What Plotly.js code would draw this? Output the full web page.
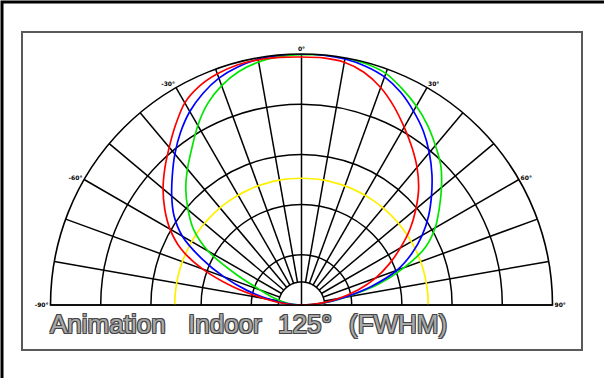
<!DOCTYPE html>
<html>
<head>
<meta charset="utf-8">
<script src="https://cdn.plot.ly/plotly-3.0.1.min.js"></script>
<style>html,body{margin:0;padding:0;background:#fff;}#chart{width:604px;height:378px;}</style>
</head>
<body>
<div id="chart"></div>
<script>
// Angles (degrees, 0 = straight up, negative = left)
const angles = [-90,-85,-80,-75,-70,-65,-60,-55,-50,-45,-40,-35,-30,-25,-20,-15,-10,-5,0,5,10,15,20,25,30,35,40,45,50,55,60,65,70,75,80,85,90];

// Relative intensity for each curve
const redSeries = [0,0.07,0.155,0.285,0.42,0.53,0.605,0.665,0.72,0.77,0.82,0.875,0.93,0.962,0.98,0.99,0.992,0.99,0.988,0.988,0.982,0.96,0.922,0.872,0.818,0.767,0.716,0.66,0.595,0.528,0.455,0.385,0.315,0.235,0.15,0.073,0];
const blueSeries = [0,0.06,0.13,0.225,0.33,0.44,0.548,0.62,0.675,0.728,0.785,0.84,0.89,0.93,0.962,0.982,0.994,0.999,1.0,0.999,0.995,0.985,0.967,0.935,0.892,0.846,0.792,0.735,0.676,0.618,0.555,0.485,0.405,0.29,0.17,0.08,0];
const greenSeries = [0,0.035,0.075,0.12,0.175,0.285,0.43,0.525,0.59,0.652,0.707,0.762,0.826,0.885,0.93,0.963,0.983,0.993,0.997,1.0,1.0,0.995,0.982,0.95,0.915,0.875,0.83,0.785,0.728,0.67,0.615,0.545,0.435,0.315,0.175,0.085,0];
const yellowSeries = [0.505,0.505,0.505,0.505,0.505,0.505,0.505,0.505,0.505,0.505,0.505,0.505,0.505,0.505,0.505,0.505,0.505,0.505,0.505,0.505,0.505,0.505,0.505,0.505,0.505,0.505,0.505,0.505,0.505,0.505,0.505,0.505,0.505,0.505,0.505,0.505,0.505];

// Angular ticks and labels
const tickVals = [-90,-80,-70,-60,-50,-40,-30,-20,-10,0,10,20,30,40,50,60,70,80,90];
const tickText = ["-90°","","","-60°","","","-30°","","","0°","","","30°","","","60°","","","90°"];
const ringVals = [0.2,0.4,0.6,0.8];

const W = 604, H = 378;
const px = x => x / W;
const py = y => 1 - y / H;

// inner hub of the grid (decoration)
const HUB = 0.092;
const hubTheta = [], hubR = [];
for (let a = -90; a <= 90; a += 3) { hubTheta.push(a); hubR.push(HUB); }

const lineStyle = c => ({color:c, width:1.7, shape:'spline', smoothing:0.8});

const traces = [
  {type:'scatterpolar', mode:'lines', r:hubR, theta:hubTheta, fill:'toself', fillcolor:'#ffffff',
   line:{color:'#000', width:1.5}, hoverinfo:'skip', showlegend:false},
  {type:'scatterpolar', mode:'lines', r:[0,HUB], theta:[0,0], line:{color:'#000', width:1.5}, hoverinfo:'skip', showlegend:false},
  {type:'scatterpolar', mode:'lines', name:'yellow', r:yellowSeries, theta:angles, line:lineStyle('#fff000')},
  {type:'scatterpolar', mode:'lines', name:'green', r:greenSeries, theta:angles, line:lineStyle('#00e600')},
  {type:'scatterpolar', mode:'lines', name:'blue', r:blueSeries, theta:angles, line:lineStyle('#0000ff')},
  {type:'scatterpolar', mode:'lines', name:'red', r:redSeries, theta:angles, line:lineStyle('#ff0000')}
];

const titleFont = {family:'Liberation Sans, Arial, sans-serif', size:26, color:'#a8a8a8',
  shadow:'-1px -1px 0 #454545, 1px -1px 0 #454545, -1px 1px 0 #454545, 1px 1px 0 #454545'};
const words = [["Animation",48],["Indoor",186],["125°",276],["(FWHM)",347]];

const layout = {
  width: W, height: H,
  margin: {l:0, r:0, t:0, b:0},
  paper_bgcolor: '#ffffff',
  showlegend: false,
  polar: {
    domain: {x:[px(50.5), px(552.5)], y:[py(305), py(54)]},
    sector: [0, 180],
    bgcolor: 'rgba(0,0,0,0)',
    angularaxis: {
      rotation: 90, direction: 'clockwise',
      tickmode: 'array', tickvals: tickVals, ticktext: tickText,
      ticks: '', showgrid: true, gridcolor: '#000', gridwidth: 1.5,
      showline: true, linecolor: '#000', linewidth: 1.6,
      tickfont: {family:'DejaVu Sans, sans-serif', size:6, color:'#000', weight:'bold'}
    },
    radialaxis: {
      range: [0, 1], tickmode: 'array', tickvals: ringVals,
      showticklabels: false, ticks: '', showline: false,
      showgrid: true, gridcolor: '#000', gridwidth: 1.5
    }
  },
  shapes: [
    {type:'rect', xref:'paper', yref:'paper', x0:px(2), x1:px(640), y0:py(400), y1:py(2),
     line:{color:'#000', width:3}},
    {type:'rect', xref:'paper', yref:'paper', x0:px(22), x1:px(582), y0:py(350), y1:py(32),
     line:{color:'#5a5a5a', width:2}}
  ],
  annotations: words.map(w => ({
    text: w[0], xref:'paper', yref:'paper', x: px(w[1]), y: py(324),
    xanchor:'left', yanchor:'middle', showarrow:false, font: titleFont
  }))
};

Plotly.newPlot('chart', traces, layout, {staticPlot:true, displayModeBar:false});
</script>
</body>
</html>
